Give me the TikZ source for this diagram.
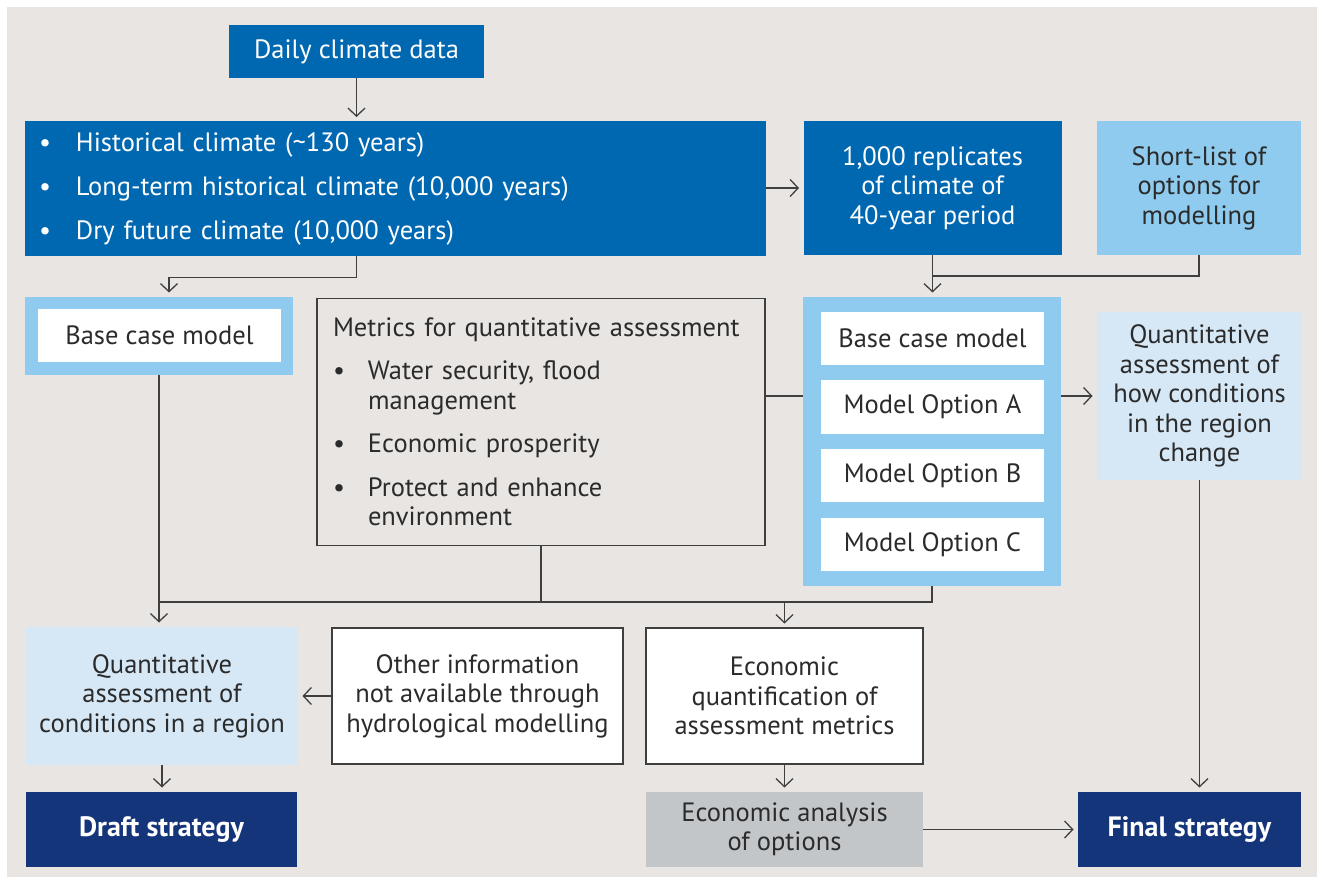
\documentclass[tikz,border=0pt]{standalone}
\usepackage{fontspec}
\setmainfont{PT Sans}
\usetikzlibrary{arrows.meta}

\definecolor{bgwarm}{HTML}{E8E5E3}
\definecolor{midblue}{HTML}{0067B1}
\definecolor{skyblue}{HTML}{8ECBEE}
\definecolor{paleblue}{HTML}{D6E8F6}
\definecolor{navy}{HTML}{15357A}
\definecolor{stone}{HTML}{C3C6C9}
\definecolor{ink}{HTML}{2B2B2B}
\definecolor{wire}{HTML}{3F3F3F}

\begin{document}
\begin{tikzpicture}[x=1pt,y=-1pt,
  every node/.style={inner sep=0pt,outer sep=0pt,align=center,text=ink,
    font=\fontsize{26.5}{29.5}\selectfont},
  sz/.style 2 args={minimum width=#1pt,minimum height=#2pt},
  dark/.style={fill=midblue,text=white},
  sky/.style={fill=skyblue},
  pale/.style={fill=paleblue},
  plain/.style={fill=white},
  outlined/.style={draw=wire,line width=1.2pt},
  strat/.style={fill=navy,text=white,font=\fontsize{28}{30}\selectfont\bfseries},
  link/.style={draw=wire,line width=1.3pt},
  arr/.style={link,-{Straight Barb[length=8pt,width=17pt,line width=1.3pt]},shorten >=4.5pt}]
\path[use as bounding box] (0,0) rectangle (1317,882);
\fill[bgwarm] (7,7) rectangle (1317,877);

% climate inputs
\node[dark,sz={255}{53}] (daily) at (356.5,51.5) {Daily climate data};
\node[dark,sz={741}{135},text width=713pt,align=left,font=\fontsize{26.5}{44}\selectfont] (climate) at (395.5,189)
  {\makebox[37pt][l]{\textbullet}Historical climate (\textasciitilde130 years)\\
   \makebox[37pt][l]{\textbullet}Long-term historical climate (10,000 years)\\
   \makebox[37pt][l]{\textbullet}Dry future climate (10,000 years)};
\node[dark,sz={258}{134}] (reps) at (932.5,188) {1,000 replicates\\of climate of\\40-year period};
\node[sky,sz={204}{134}] (shortlist) at (1199,188) {Short-list of\\options for\\modelling};

% models and metrics
\node[sky,sz={268}{78}] (baseframe) at (159,336) {};
\node[plain,sz={243}{53}] (base) at (159.5,335.5) {Base case model};
\node[outlined,sz={448}{247},text width=416pt,align=left] (metrics) at (541,422)
  {Metrics for quantitative assessment\\[14pt]
   \makebox[35pt][l]{\textbullet}Water security, flood\\
   \hspace*{35pt}management\\[14pt]
   \makebox[35pt][l]{\textbullet}Economic prosperity\\[14pt]
   \makebox[35pt][l]{\textbullet}Protect and enhance\\
   \hspace*{35pt}environment};
\node[sky,sz={258}{289}] (models) at (932,441.5) {};
\node[plain,sz={223}{53}] (optbase) at (932.5,338.5) {Base case model};
\node[plain,sz={223}{53}] (opta) at (932.5,407) {Model Option A};
\node[plain,sz={223}{53}] (optb) at (932.5,475.5) {Model Option B};
\node[plain,sz={223}{53}] (optc) at (932.5,544.5) {Model Option C};
\node[pale,sz={205}{168}] (howchange) at (1199.5,396) {Quantitative\\assessment of\\how conditions\\in the region\\change};

% assessments and strategies
\node[pale,sz={272}{138}] (regionq) at (162,696) {Quantitative\\assessment of\\conditions in a region};
\node[plain,outlined,sz={291}{136}] (otherinfo) at (477.5,696) {Other information\\not available through\\hydrological modelling};
\node[plain,outlined,sz={277}{136}] (econq) at (784.5,696) {Economic\\quantification of\\assessment metrics};
\node[fill=stone,sz={277}{75}] (econa) at (784.5,829.5) {Economic analysis\\of options};
\node[strat,sz={271}{75}] (draft) at (161.5,829.5) {Draft strategy};
\node[strat,sz={223}{75}] (final) at (1189.5,829.5) {Final strategy};

% connectors
\draw[arr] (daily) -- (daily |- climate.north);
\draw[arr] (climate.east |- reps) -- (reps.west);
\draw[arr] (daily |- climate.south) -- ++(0,21) -| ([xshift=10pt]baseframe.north);
\draw[link] (shortlist.south) -- ++(0,21) -| (reps.south);
\draw[arr] (reps.south) -- (reps.south |- models.north);
\draw[link] (metrics.east |- howchange) -- (models.west |- howchange);
\draw[arr] (models.east |- howchange) -- (howchange.west);
\coordinate (bus) at (0,602);
\draw[link] (baseframe.south |- bus) -- (models.south |- bus) -- (models.south);
\draw[link] (metrics.south) -- (metrics.south |- bus);
\draw[arr] (baseframe.south) -- (baseframe.south |- regionq.north);
\draw[arr] (econq.north |- bus) -- (econq.north);
\draw[arr] (otherinfo.west) -- (regionq.east);
\draw[arr] (regionq.south) -- (regionq.south |- draft.north);
\draw[arr] (econq.south) -- (econa.north);
\draw[arr] (econa.east) -- (final.west);
\draw[arr] (howchange.south) -- (howchange.south |- final.north);
\end{tikzpicture}
\end{document}
